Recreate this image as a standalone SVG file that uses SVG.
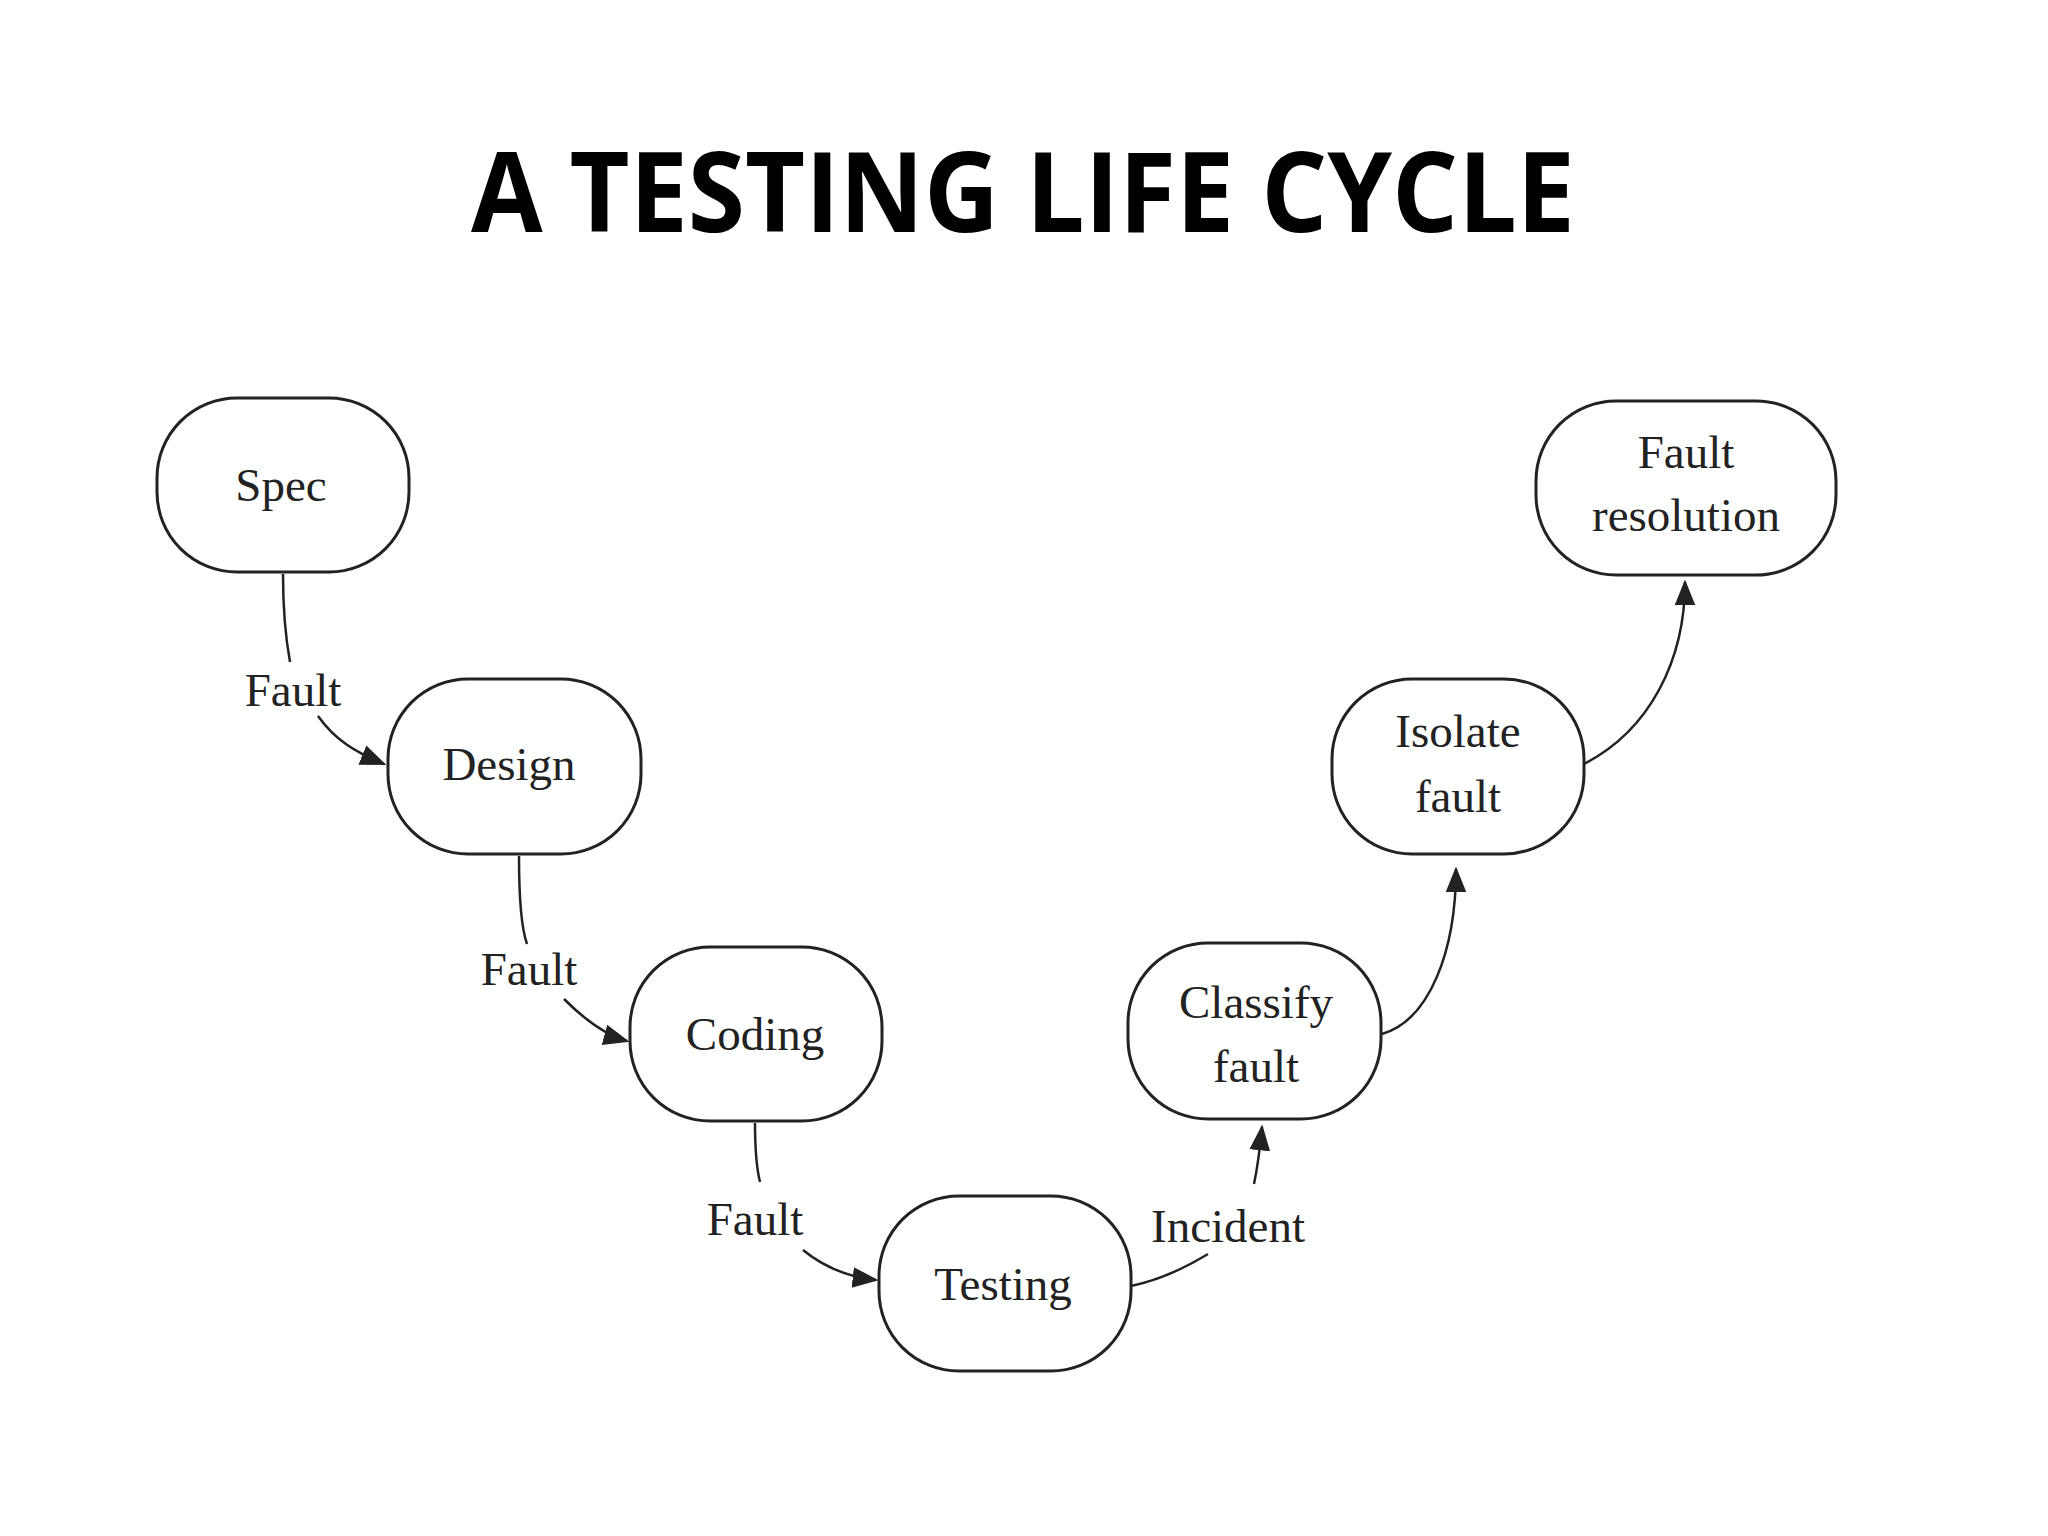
<svg xmlns="http://www.w3.org/2000/svg" width="2048" height="1536" viewBox="0 0 2048 1536">
<defs>
<marker id="ah" viewBox="0 0 10 10" refX="9" refY="5" markerWidth="9" markerHeight="9" markerUnits="userSpaceOnUse" orient="auto"><path d="M0,0 L10,5 L0,10 z" fill="#222"/></marker>
<marker id="a" viewBox="0 0 10 10" refX="9" refY="5" markerWidth="26" markerHeight="26" markerUnits="userSpaceOnUse" orient="auto"><path d="M0,1 L10,5 L0,9 z" fill="#222"/></marker>
</defs>
<style>
.n rect{fill:#fff;stroke:#222;stroke-width:3}
.n text,.l{font-family:"Liberation Serif",serif;font-size:47px;fill:#222;text-anchor:middle;dominant-baseline:central}
.c path{fill:none;stroke:#222;stroke-width:2.5}
</style>
<rect width="2048" height="1536" fill="#fff"/>
<text x="1023" y="232" font-family="'Open Sans',sans-serif" font-weight="bold" font-size="112" text-anchor="middle" textLength="1104" lengthAdjust="spacingAndGlyphs" fill="#000">A TESTING LIFE CYCLE</text>
<g class="c">
<path d="M283,574 C283,610 286,640 290,662"/>
<path d="M318,716 C335,740 355,752 384,764" marker-end="url(#a)"/>
<path d="M519,856 C519,900 522,930 527,944"/>
<path d="M564,999 C585,1020 605,1035 627,1041" marker-end="url(#a)"/>
<path d="M755,1123 C755,1150 757,1170 760,1182"/>
<path d="M803,1250 C825,1268 848,1277 876,1280" marker-end="url(#a)"/>
<path d="M1131,1286 C1160,1280 1185,1268 1208,1254"/>
<path d="M1254,1184 C1258,1165 1260,1148 1262,1127" marker-end="url(#a)"/>
<path d="M1382,1034 C1430,1020 1456,950 1456,869" marker-end="url(#a)"/>
<path d="M1584,764 C1650,730 1685,660 1685,582" marker-end="url(#a)"/>
</g>
<text class="l" x="293" y="690">Fault</text>
<text class="l" x="529" y="969">Fault</text>
<text class="l" x="755" y="1219">Fault</text>
<text class="l" x="1228" y="1226">Incident</text>
<g class="n" id="spec"><rect x="157" y="398" width="252" height="174" rx="80"/><text x="281" y="485">Spec</text></g>
<g class="n" id="design"><rect x="388" y="679" width="253" height="175" rx="80"/><text x="509" y="764">Design</text></g>
<g class="n" id="coding"><rect x="630" y="947" width="252" height="174" rx="80"/><text x="755" y="1034">Coding</text></g>
<g class="n" id="testing"><rect x="879" y="1196" width="252" height="175" rx="80"/><text x="1003" y="1284">Testing</text></g>
<g class="n" id="classify"><rect x="1128" y="943" width="253" height="176" rx="80"/><text x="1256" y="1002">Classify</text><text x="1256" y="1066">fault</text></g>
<g class="n" id="isolate"><rect x="1332" y="679" width="252" height="175" rx="80"/><text x="1458" y="731">Isolate</text><text x="1458" y="796">fault</text></g>
<g class="n" id="resolution"><rect x="1536" y="401" width="300" height="174" rx="80"/><text x="1686" y="452">Fault</text><text x="1686" y="515">resolution</text></g>
</svg>
